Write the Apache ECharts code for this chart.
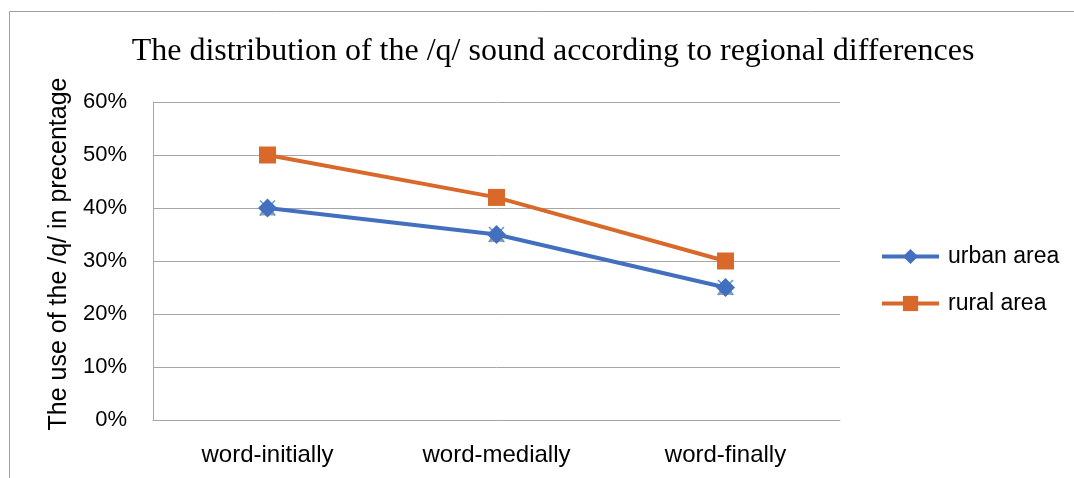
<!DOCTYPE html>
<html><head><meta charset="utf-8">
<script src="https://cdn.jsdelivr.net/npm/echarts@6/dist/echarts.min.js"></script>
<style>html,body{margin:0;padding:0;background:#fff}#c{width:1074px;height:478px}</style>
</head><body><div id="c"></div>
<script>
const categories = ['word-initially', 'word-medially', 'word-finally'];
const urban = [0.40, 0.35, 0.25];
const rural = [0.50, 0.42, 0.30];
const yTicks = [0, 0.1, 0.2, 0.3, 0.4, 0.5, 0.6];
const titleText = 'The distribution of the /q/ sound according to regional differences';
const yName = 'The use of the /q/ in precentage';

const BLUE = '#4270BE', ORANGE = '#D8692A', GRID = '#A6A6A6';
const chart = echarts.init(document.getElementById('c'), null, {renderer: 'canvas'});
chart.setOption({
  animation: false,
  backgroundColor: '#fff',
  graphic: [{type: 'rect', shape: {x: 9.5, y: 11.5, width: 1200, height: 600}, style: {fill: 'none', stroke: '#A0A0A0', lineWidth: 1}, silent: true}],
  title: {text: titleText, left: 548, top: 31, textAlign: 'center',
    textStyle: {fontFamily: 'Liberation Serif', fontSize: 32, fontWeight: 'normal', color: '#000'}},
  grid: {left: 153, right: 234, top: 102, bottom: 58, containLabel: false},
  legend: {
    orient: 'vertical', left: 875, top: 240, itemGap: 24, itemWidth: 57, itemHeight: 19,
    data: ['urban area', 'rural area'],
    lineStyle: {width: 4},
    textStyle: {fontFamily: 'Liberation Sans', fontSize: 23, color: '#000', padding: [0, 0, 0, 4]}
  },
  xAxis: {type: 'category', data: categories, boundaryGap: true,
    axisLine: {show: true, lineStyle: {color: GRID, width: 1}},
    axisTick: {show: false},
    axisLabel: {fontFamily: 'Liberation Sans', fontSize: 24, color: '#000', margin: 23}},
  yAxis: {type: 'value', min: 0, max: 0.6, interval: 0.1,
    name: yName, nameLocation: 'middle', nameGap: 72, nameRotate: 90,
    nameTextStyle: {fontFamily: 'Liberation Sans', fontSize: 25, color: '#000', padding: [0, 0, 0, 14]},
    axisLine: {show: true, lineStyle: {color: GRID, width: 1}},
    axisTick: {show: false},
    splitLine: {lineStyle: {color: GRID, width: 1}},
    axisLabel: {fontFamily: 'Liberation Sans', fontSize: 22, color: '#000', margin: 26,
      formatter: v => Math.round(v * 100) + '%'}},
  series: [
    {name: 'hidden-tri', type: 'line', data: urban, symbol: 'triangle', symbolSize: [17, 15], showSymbol: true,
      lineStyle: {width: 0, opacity: 0}, itemStyle: {color: '#A5A5A5'}, z: 1, silent: true},
    {name: 'hidden-x', type: 'line', data: urban, symbol: 'path://M0,0L10,10M10,0L0,10', symbolSize: 15, showSymbol: true,
      lineStyle: {width: 0, opacity: 0}, itemStyle: {color: 'none', borderColor: '#5B9BD5', borderWidth: 1.5}, z: 1, silent: true},
    {name: 'urban area', type: 'line', data: urban, symbol: 'diamond', symbolSize: 19,
      lineStyle: {color: BLUE, width: 4}, itemStyle: {color: BLUE}, z: 3},
    {name: 'rural area', type: 'line', data: rural, symbol: 'rect', symbolSize: 17,
      lineStyle: {color: ORANGE, width: 4}, itemStyle: {color: ORANGE}, z: 3}
  ]
});
</script></body></html>
